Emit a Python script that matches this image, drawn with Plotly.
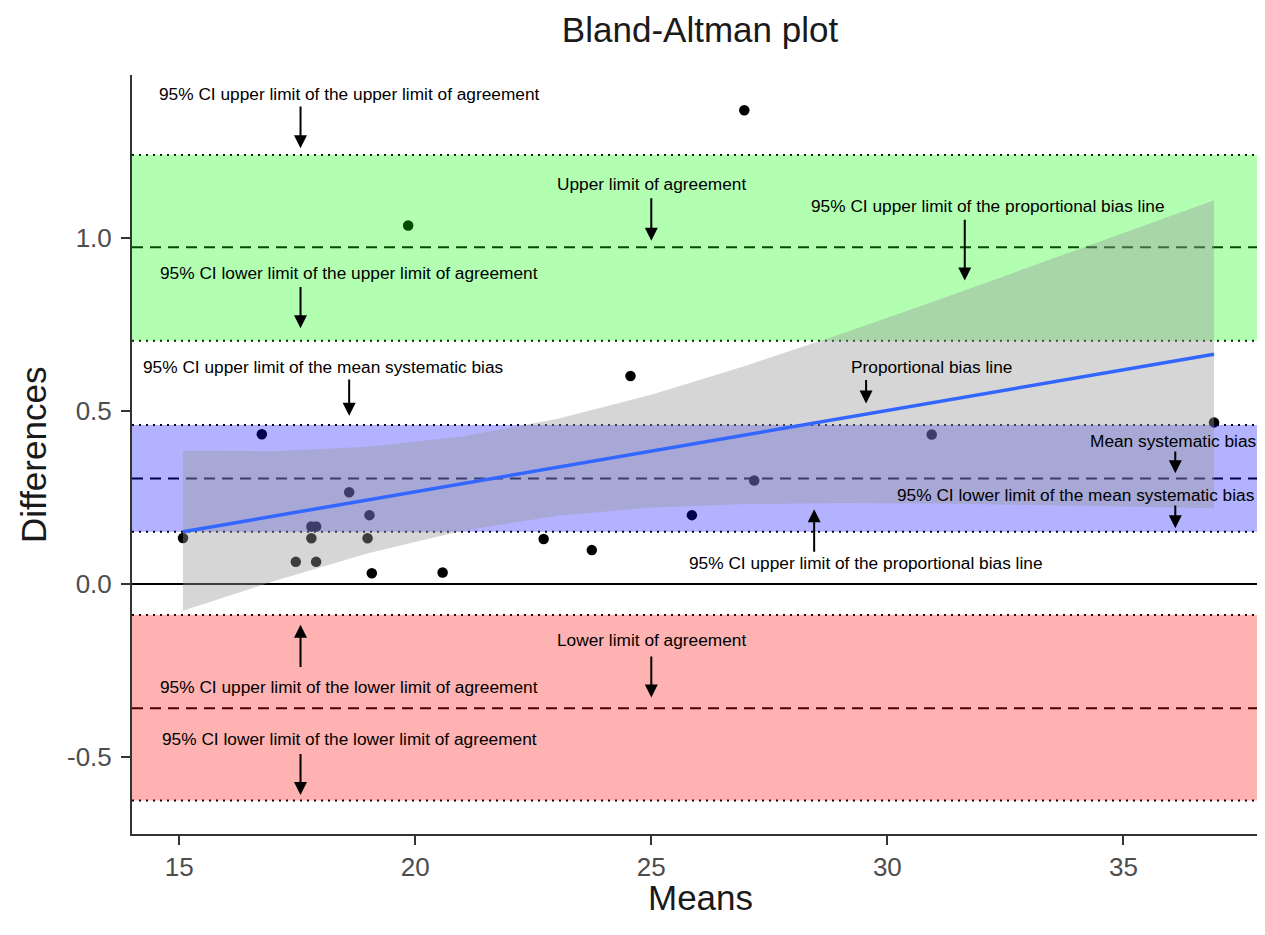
import plotly.graph_objects as go

# ---------------- data ----------------
means = [15.08, 16.75, 17.47, 17.80, 17.80, 17.90, 17.90, 18.60, 18.99, 19.03, 19.08,
         19.85, 20.58, 22.72, 23.74, 24.56, 25.86, 26.97, 27.18, 30.94, 36.92]
diffs = [0.133, 0.433, 0.064, 0.132, 0.166, 0.166, 0.064, 0.265, 0.132, 0.199, 0.031,
         1.036, 0.033, 0.130, 0.098, 0.601, 0.199, 1.369, 0.299, 0.432, 0.467]

# agreement limits
bias = 0.305
bias_ci = [0.151, 0.4595]
upper_loa = 0.973
upper_loa_ci = [0.703, 1.240]
lower_loa = -0.359
lower_loa_ci = [-0.626, -0.0896]
zero_line = 0.0

# proportional bias line and its 95% CI ribbon
fit_x = [15.08, 17, 19, 21, 23, 25, 27, 29, 31, 33, 35, 36.92]
fit_y = [0.151, 0.196, 0.243, 0.290, 0.337, 0.384, 0.431, 0.478, 0.525, 0.572, 0.619, 0.664]
fit_upper = [0.385, 0.384, 0.397, 0.426, 0.477, 0.547, 0.631, 0.722, 0.817, 0.915, 1.014, 1.109]
fit_lower = [-0.077, 0.008, 0.089, 0.154, 0.197, 0.221, 0.231, 0.234, 0.233, 0.229, 0.224, 0.219]

# labels: (text, x, y)
labels = [
    ("95% CI upper limit of the upper limit of agreement", 18.6, 1.416),
    ("95% CI lower limit of the upper limit of agreement", 18.6, 0.900),
    ("Upper limit of agreement", 25.0, 1.156),
    ("95% CI upper limit of the proportional bias line", 32.13, 1.093),
    ("95% CI upper limit of the mean systematic bias", 18.05, 0.626),
    ("Proportional bias line", 30.93, 0.626),
    ("Mean systematic bias", 36.06, 0.414),
    ("95% CI lower limit of the mean systematic bias", 34.0, 0.257),
    ("95% CI upper limit of the proportional bias line", 29.55, 0.060),
    ("Lower limit of agreement", 25.0, -0.162),
    ("95% CI upper limit of the lower limit of agreement", 18.6, -0.297),
    ("95% CI lower limit of the lower limit of agreement", 18.6, -0.448),
]
# arrows: (x, y_tail, y_head)
arrows = [
    (17.57, 1.384, 1.259),
    (17.57, 0.863, 0.739),
    (25.0, 1.119, 0.992),
    (31.64, 1.057, 0.877),
    (18.6, 0.595, 0.486),
    (29.55, 0.594, 0.522),
    (36.1, 0.387, 0.320),
    (36.1, 0.231, 0.161),
    (28.45, 0.089, 0.216),
    (25.0, -0.205, -0.328),
    (17.57, -0.244, -0.118),
    (17.57, -0.487, -0.610),
]

x_range = [14.0, 38.0]
y_range = [-0.7225, 1.471]
x_ticks = [15, 20, 25, 30, 35]
y_ticks = [-0.5, 0.0, 0.5, 1.0]
y_ticktext = ["-0.5", "0.0", "0.5", "1.0"]
FONT = "Liberation Sans, Arial, Helvetica, sans-serif"

# the page body has an 8px margin; the figure is sized so the whole page is 1265x935
FIG_W, FIG_H = 1257, 927
M_L, M_R, M_T, M_B = 124, 0, 67, 101
PLOT_W = FIG_W - M_L - M_R
PLOT_H = FIG_H - M_T - M_B

fig = go.Figure()

# points (drawn first, the translucent bands sit on top of them)
fig.add_trace(go.Scatter(x=means, y=diffs, mode="markers",
                         marker=dict(color="black", size=10.5, line=dict(width=0)),
                         showlegend=False, hoverinfo="x+y"))

# bands
bands = [(upper_loa_ci, "rgba(0,255,0,0.3)"),
         (bias_ci, "rgba(0,0,255,0.3)"),
         (lower_loa_ci, "rgba(255,0,0,0.3)")]
for (lo, hi), col in bands:
    fig.add_trace(go.Scatter(x=[x_range[0] - 1, x_range[1] + 1, x_range[1] + 1, x_range[0] - 1],
                             y=[lo, lo, hi, hi], fill="toself", fillcolor=col,
                             mode="none", showlegend=False, hoverinfo="skip"))

# ribbon
fig.add_trace(go.Scatter(x=fit_x, y=fit_lower, mode="lines", line=dict(width=0),
                         showlegend=False, hoverinfo="skip"))
fig.add_trace(go.Scatter(x=fit_x, y=fit_upper, mode="lines", line=dict(width=0),
                         fill="tonexty", fillcolor="rgba(153,153,153,0.4)",
                         showlegend=False, hoverinfo="skip"))
# proportional bias line
fig.add_trace(go.Scatter(x=fit_x, y=fit_y, mode="lines",
                         line=dict(color="#3366FF", width=3.5),
                         showlegend=False, hoverinfo="skip"))

# horizontal reference lines (below traces -> tinted by the bands)
def hline(y, dash, width=2):
    fig.add_shape(type="line", xref="paper", x0=0, x1=1, yref="y", y0=y, y1=y,
                  line=dict(color="black", width=width, dash=dash), layer="below")

for y in upper_loa_ci + bias_ci + lower_loa_ci:
    hline(y, "2px,5px")
for y in [upper_loa, bias, lower_loa]:
    hline(y, "11px,7px")
hline(zero_line, "solid")

# text labels
for txt, x, y in labels:
    fig.add_annotation(x=x, y=y, text=txt, showarrow=False,
                       font=dict(family=FONT, size=17.3, color="black"),
                       xanchor="center", yanchor="middle")
# arrows
for x, yt, yh in arrows:
    fig.add_annotation(x=x, y=yh, ax=x, ay=yt, axref="x", ayref="y", text="",
                       showarrow=True, arrowhead=2, arrowsize=1.3, arrowwidth=2,
                       arrowcolor="black", standoff=0, startstandoff=0)

# axis titles
fig.add_annotation(xref="paper", yref="paper", x=(692 - M_L) / PLOT_W, y=-63 / PLOT_H,
                   text="Means", showarrow=False, xanchor="center", yanchor="middle",
                   font=dict(family=FONT, size=35, color="#1a1a1a"))
fig.add_annotation(xref="paper", yref="paper", x=(26 - M_L) / PLOT_W, y=(826 - 447) / PLOT_H,
                   text="Differences", showarrow=False, xanchor="center", yanchor="middle",
                   textangle=-90, font=dict(family=FONT, size=35, color="#1a1a1a"))

axis_common = dict(showgrid=False, zeroline=False, showline=True, linecolor="#333333",
                   linewidth=2, ticks="outside", ticklen=9, tickwidth=2, tickcolor="#333333",
                   automargin=False,
                   tickfont=dict(family=FONT, size=26, color="#4d4d4d"))

fig.update_layout(
    width=FIG_W, height=FIG_H,
    paper_bgcolor="white", plot_bgcolor="white",
    margin=dict(l=M_L, r=M_R, t=M_T, b=M_B),
    title=dict(text="Bland-Altman plot", x=692 / FIG_W, xanchor="center",
               y=1 - 22 / FIG_H, yanchor="middle",
               yref="container", font=dict(family=FONT, size=35, color="#1a1a1a")),
    xaxis=dict(range=x_range, tickvals=x_ticks, **axis_common),
    yaxis=dict(range=y_range, tickvals=y_ticks, ticktext=y_ticktext,
               ticklabelstandoff=4, **axis_common),
)

fig.write_html("out.html")
